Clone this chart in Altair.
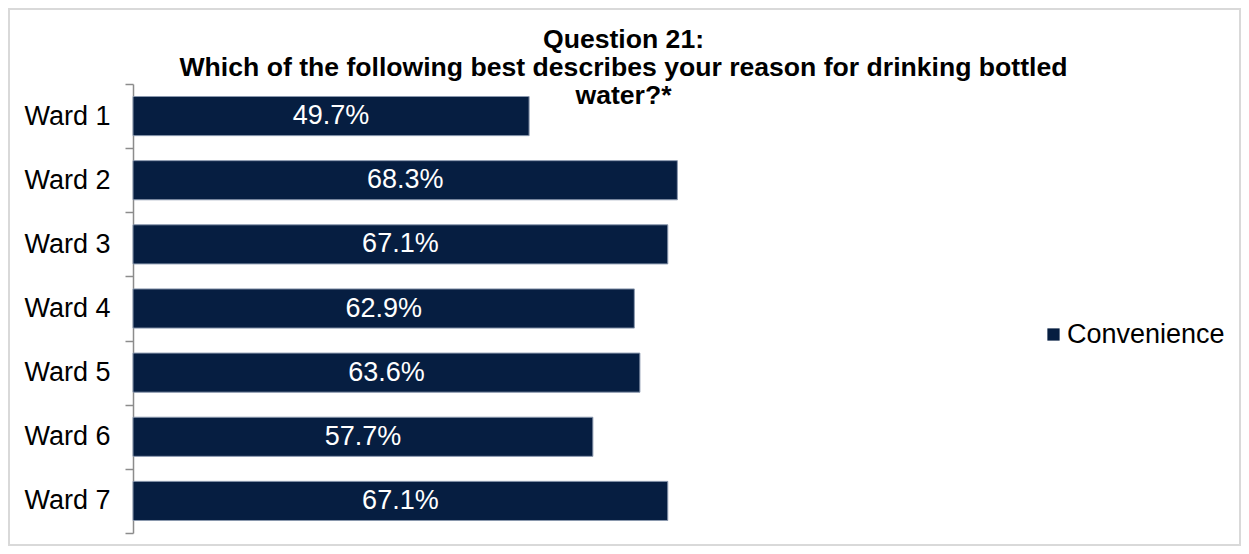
import altair as alt
import pandas as pd

wards = ["Ward 1", "Ward 2", "Ward 3", "Ward 4", "Ward 5", "Ward 6", "Ward 7"]
convenience = [49.7, 68.3, 67.1, 62.9, 63.6, 57.7, 67.1]
series = ["Convenience"] * len(wards)
labels = [f"{v:.1f}%" for v in convenience]

df = pd.DataFrame({"ward": wards, "value": convenience, "series": series, "label": labels})

FONT = "Liberation Sans"
NAVY = "#061e41"
W, H = 797, 449
FS = 27

y_enc = alt.Y("ward:N", sort=wards, title=None,
              scale=alt.Scale(paddingInner=0, paddingOuter=0),
              axis=alt.Axis(tickBand="extent", domainColor="#8c8c8c", tickColor="#8c8c8c",
                            tickSize=8, labelFontSize=FS, labelColor="#000000",
                            labelPadding=15, labelFont=FONT, domainWidth=1.5, tickWidth=1.5))
x_scale = alt.Scale(domain=[0, 100])

base = alt.Chart(df)

bars = base.mark_bar(stroke="#8a98ae", strokeWidth=1, height=alt.RelativeBandSize(0.61)).encode(
    x=alt.X("value:Q", scale=x_scale, axis=None),
    y=y_enc,
    color=alt.Color("series:N", scale=alt.Scale(range=[NAVY]),
                    legend=alt.Legend(title=None, orient="none", legendX=907, legendY=237,
                                      symbolType="square", symbolSize=150, symbolStrokeWidth=0,
                                      labelFontSize=FS, labelFont=FONT, labelColor="#000000",
                                      padding=0, labelOffset=0)),
)

text = base.transform_calculate(mid="datum.value / 2").mark_text(
    color="white", fontSize=FS, font=FONT, align="center", baseline="middle"
).encode(
    x=alt.X("mid:Q", scale=x_scale, axis=None),
    y=alt.Y("ward:N", sort=wards),
    text="label:N",
)

border = alt.Chart(pd.DataFrame({"a": [0]})).mark_rect(
    fill=None, stroke="#d9d9d9", strokeWidth=2
).encode(
    x=alt.value(-124), x2=alt.value(W + 310), y=alt.value(-75), y2=alt.value(H + 12)
)

chart = alt.layer(border, bars, text).properties(
    width=W, height=H,
    title=alt.TitleParams(
        text=["Question 21:",
              "Which of the following best describes your reason for drinking bottled",
              "water?*"],
        fontSize=26.6, font=FONT, fontWeight="bold", color="#000000",
        anchor="middle", frame="group", dx=92, lineHeight=28, offset=-102,
    ),
    autosize=alt.AutoSizeParams(type="none"),
    padding={"left": 125, "top": 76, "right": 311, "bottom": 13},
).configure_view(stroke=None)

chart.save("out.html", embed_options={"renderer": "svg", "actions": False})
